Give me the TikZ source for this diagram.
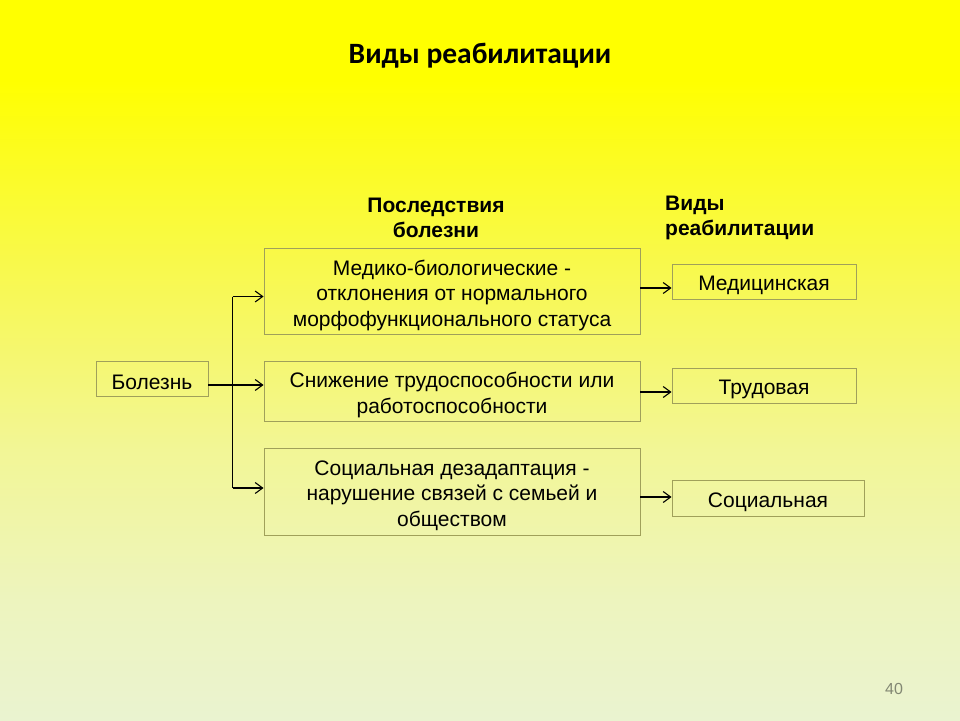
\documentclass[tikz,border=0pt]{standalone}
\usepackage{fontspec}
\setmainfont{Liberation Sans}
\newfontfamily\titlefont{Carlito}
\usetikzlibrary{arrows.meta}
\definecolor{bgA}{RGB}{255,255,0}
\definecolor{bgB}{RGB}{252,252,30}
\definecolor{bgC}{RGB}{247,248,90}
\definecolor{bgD}{RGB}{242,246,150}
\definecolor{bgE}{RGB}{237,244,190}
\definecolor{bgF}{RGB}{234,243,208}
\definecolor{boxline}{RGB}{160,160,90}
\definecolor{pagenum}{RGB}{130,135,115}
\pgfdeclareverticalshading{slidebg}{100bp}{color(0bp)=(bgF); color(25bp)=(bgF); color(33.3bp)=(bgE); color(43.75bp)=(bgD); color(54.2bp)=(bgC); color(64.6bp)=(bgB); color(69.4bp)=(bgA); color(100bp)=(bgA)}
\tikzset{
  box/.style={draw=boxline, line width=0.9pt, inner sep=0pt},
  btext/.style={align=center, inner sep=0pt, font=\fontsize{21}{25.5}\selectfont, yshift=-4pt},
  arr/.style={draw=black, line width=1.1pt, -{Straight Barb[length=7.5pt,width=11pt]}},
  conn/.style={draw=black, line width=1.1pt},
  head/.style={font=\fontsize{21}{25}\selectfont\bfseries, inner sep=0pt}
}
\begin{document}
\begin{tikzpicture}[x=1pt,y=-1pt]
\shade[shading=slidebg] (0,0) rectangle (960,720);
\useasboundingbox (0,0) rectangle (960,720);
\node[font=\titlefont\fontsize{29.5}{34}\selectfont\bfseries, inner sep=0pt] (title) at (480,56) {Виды реабилитации};
\node[head, align=center] (h1) at (436,218) {Последствия\\болезни};
\node[head, align=left, anchor=west] (h2) at (665,218) {Виды\\реабилитации};
\node[box, minimum width=112pt, minimum height=35pt] (bol) at (152,378.5) {};
\node[box, minimum width=376pt, minimum height=86pt] (b1) at (452,291) {};
\node[box, minimum width=376pt, minimum height=60pt] (b2) at (452,391) {};
\node[box, minimum width=376pt, minimum height=87pt] (b3) at (452,491.5) {};
\node[box, minimum width=184pt, minimum height=35pt] (r1) at (764,281.5) {};
\node[box, minimum width=184pt, minimum height=35pt] (r2) at (764,385.5) {};
\node[box, minimum width=192pt, minimum height=36pt] (r3) at (768,498) {};
\node[btext] (bolt) at (bol.center) {Болезнь};
\node[btext] (b1t) at (b1.center) {Медико-биологические -\\отклонения от нормального\\морфофункционального статуса};
\node[btext] (b2t) at (b2.center) {Снижение трудоспособности или\\работоспособности};
\node[btext] (b3t) at (b3.center) {Социальная дезадаптация -\\нарушение связей с семьей и\\обществом};
\node[btext] (r1t) at (r1.center) {Медицинская};
\node[btext] (r2t) at (r2.center) {Трудовая};
\node[btext] (r3t) at (r3.center) {Социальная};
\node[font=\fontsize{16}{19}\selectfont, text=pagenum, inner sep=0pt] (pn) at (894,689) {40};
\coordinate (jm) at (232.5,385);
\coordinate (jt) at (232.5,296.5);
\coordinate (jb) at (232.5,488);
\coordinate (o1) at (640,288);
\coordinate (o2) at (640,392);
\coordinate (o3) at (640,497);
\draw[conn] (jt) -- (jb);
\draw[arr] (bol.east |- jm) -- (b2.west |- jm);
\draw[arr] (jt) -- (b1.west |- jt);
\draw[arr] (jb) -- (b3.west |- jb);
\draw[arr] (o1) -- (r1.west |- o1);
\draw[arr] (o2) -- (r2.west |- o2);
\draw[arr] (o3) -- (r3.west |- o3);
\end{tikzpicture}
\end{document}
